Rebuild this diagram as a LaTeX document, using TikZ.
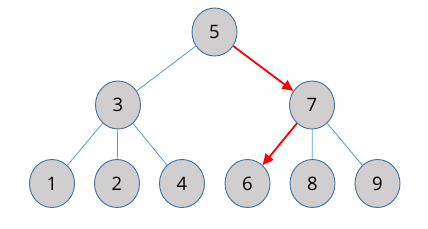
\documentclass[tikz,border=0pt]{standalone}
\usepackage{fontspec}
\setmainfont{Open Sans}
\usetikzlibrary{shapes.geometric,arrows.meta}
\definecolor{nodefill}{RGB}{208,206,206}
\definecolor{nodeline}{RGB}{65,113,156}
\definecolor{edgeblue}{RGB}{91,155,213}
\tikzset{
  treenode/.style={ellipse, draw=nodeline, fill=nodefill, line width=0.9pt,
    minimum width=45pt, minimum height=48pt, inner sep=0pt, font=\fontsize{18.5}{18.5}\selectfont},
  plainedge/.style={draw=edgeblue, line width=0.8pt},
  rededge/.style={draw=red, line width=1.8pt, -{Triangle[length=11pt,width=10pt]}}
}
\begin{document}
\begin{tikzpicture}[x=1pt,y=-1pt]
\useasboundingbox (0,0) rectangle (428,228);
\node[treenode] (n5) at (214.5,32) {5};
\node[treenode] (n3) at (118,105) {3};
\node[treenode] (n7) at (312,105) {7};
\node[treenode] (n1) at (52,183.5) {1};
\node[treenode] (n2) at (117,183.5) {2};
\node[treenode] (n4) at (182,183.5) {4};
\node[treenode] (n6) at (247.5,183.5) {6};
\node[treenode] (n8) at (312.5,183.5) {8};
\node[treenode] (n9) at (377.5,183.5) {9};
\path[plainedge] (n5) -- (n3);
\path[plainedge] (n3) -- (n1);
\path[plainedge] (n3) -- (n2);
\path[plainedge] (n3) -- (n4);
\path[plainedge] (n7) -- (n8);
\path[plainedge] (n7) -- (n9);
\path[rededge] (n5) -- (n7);
\path[rededge] (n7) -- (n6);
\end{tikzpicture}
\end{document}
